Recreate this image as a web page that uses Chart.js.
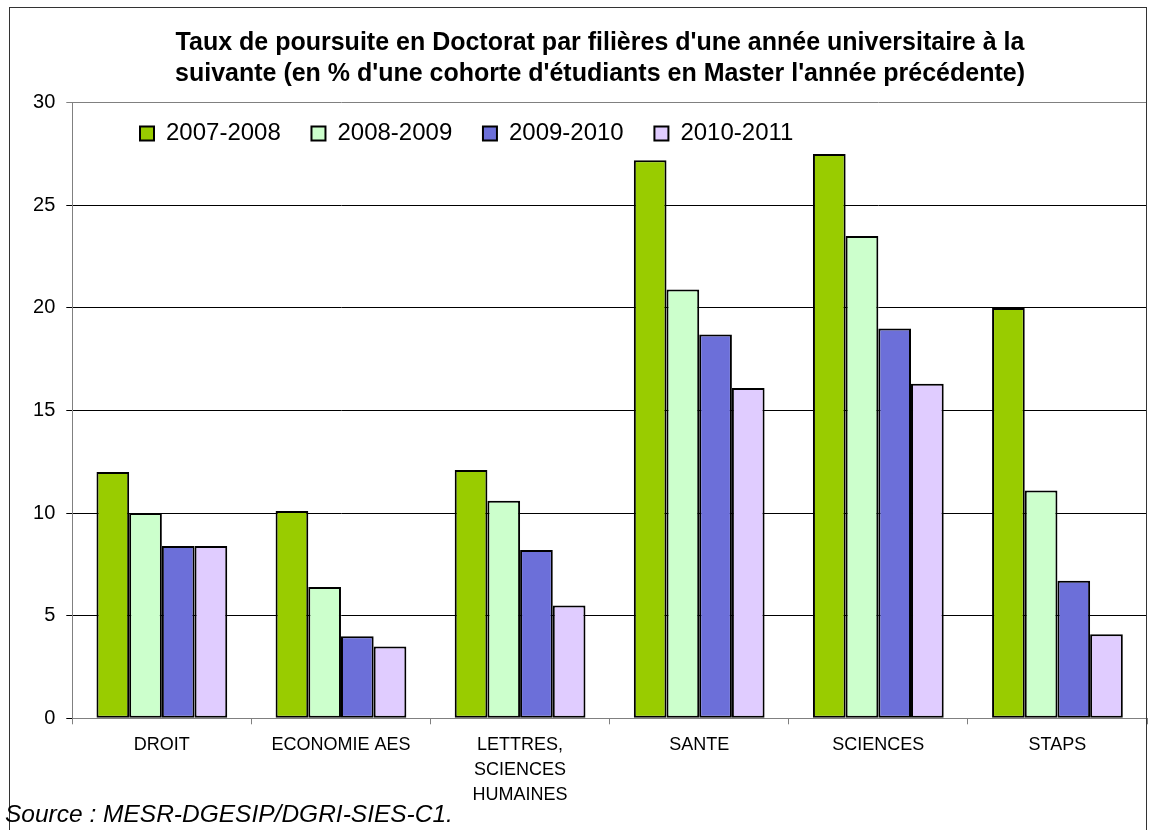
<!DOCTYPE html>
<html lang="fr">
<head>
<meta charset="utf-8">
<title>Taux de poursuite en Doctorat</title>
<script src="https://cdn.jsdelivr.net/npm/chart.js@4.4.1/dist/chart.umd.min.js"></script>
<style>
  html, body { margin: 0; padding: 0; background: #fff; }
  #wrap { width: 1151px; height: 830px; }
</style>
</head>
<body>
<div id="wrap"><canvas id="doctorat-chart" width="1151" height="830"></canvas></div>
<script>
/* ===== DONNEES ===== */
const filieres = ['DROIT', 'ECONOMIE AES', ['LETTRES,', 'SCIENCES', 'HUMAINES'], 'SANTE', 'SCIENCES', 'STAPS'];
const annees   = ['2007-2008', '2008-2009', '2009-2010', '2010-2011'];
const taux0708 = [12.0, 10.1, 12.1, 27.2, 27.5, 20.0];
const taux0809 = [10.0,  6.4, 10.6, 20.9, 23.5, 11.1];
const taux0910 = [ 8.4,  4.0,  8.2, 18.7, 19.0,  6.7];
const taux1011 = [ 8.4,  3.5,  5.5, 16.1, 16.3,  4.1];
const yTicks   = [0, 5, 10, 15, 20, 25, 30];

const titre  = ["Taux de poursuite en Doctorat par filières d'une année universitaire à la",
                "suivante (en % d'une cohorte d'étudiants en Master l'année précédente)"];
const source = 'Source : MESR-DGESIP/DGRI-SIES-C1.';

const couleurs = ['#99CC00', '#CCFFCC', '#6C6FD9', '#E0CCFF'];
const FONT = 'Arial, "Liberation Sans", sans-serif';

Chart.defaults.font.family = FONT;
Chart.defaults.color = '#000';

function serie(label, data, i) {
  return {
    label: label,
    data: data,
    backgroundColor: couleurs[i],
    borderColor: '#000',
    borderWidth: 2,
    borderSkipped: false,
    categoryPercentage: 0.73,
    barPercentage: 1.0
  };
}

// legend sits inside the plot, it must not take layout space
const legendeFlottante = {
  id: 'legendeFlottante',
  beforeInit(chart) {
    const fit = chart.legend.fit;
    chart.legend.fit = function () {
      fit.call(this);
      this.height = 0;
    };
  },
  afterLayout(chart) {
    const lg = chart.legend;
    lg.left = 109.3;
    lg.right = 1147;
    lg.top = 90.8;
    lg.bottom = 160;
    chart.titleBlock.left = 53;
    chart.titleBlock.right = 1147;
  }
};

// outer frame, plot right edge and source line
const cadre = {
  id: 'cadre',
  afterDraw(chart) {
    const ctx = chart.ctx;
    const a = chart.chartArea;
    ctx.save();
    ctx.strokeStyle = '#808080';
    ctx.lineWidth = 1;
    ctx.beginPath();
    ctx.moveTo(Math.round(a.right) - 0.5, a.top);
    ctx.lineTo(Math.round(a.right) - 0.5, a.bottom);
    ctx.stroke();
    ctx.strokeStyle = '#333';
    ctx.strokeRect(9.5, 7.5, 1137, 900);
    ctx.fillStyle = '#000';
    ctx.font = 'italic 24.5px ' + FONT;
    ctx.textBaseline = 'middle';
    ctx.fillText(source, 5, 815);
    ctx.restore();
  }
};

new Chart(document.getElementById('doctorat-chart'), {
  type: 'bar',
  data: {
    labels: filieres,
    datasets: [
      serie(annees[0], taux0708, 0),
      serie(annees[1], taux0809, 1),
      serie(annees[2], taux0910, 2),
      serie(annees[3], taux1011, 3)
    ]
  },
  options: {
    responsive: false,
    animation: false,
    layout: { padding: { left: 10, right: 4, top: 0, bottom: 0 } },
    plugins: {
      title: {
        display: true,
        text: titre,
        color: '#000',
        font: { size: 25, weight: 'bold', lineHeight: 31 / 25 },
        padding: { top: 27.5, bottom: 13.2 }
      },
      legend: {
        display: true,
        position: 'top',
        align: 'start',
        labels: { boxWidth: 14, boxHeight: 14, padding: 30.7, color: '#000', font: { size: 24 } }
      },
      tooltip: { enabled: false }
    },
    scales: {
      x: {
        grid: { offset: true, drawOnChartArea: false, tickLength: 6, color: '#808080' },
        border: { color: '#808080' },
        ticks: { padding: 8, font: { size: 18, lineHeight: 1.4 }, maxRotation: 0, autoSkip: false },
        afterFit(scale) { scale.height = 111.7; }
      },
      y: {
        min: 0,
        max: 30,
        afterBuildTicks(scale) { scale.ticks = yTicks.map(v => ({ value: v })); },
        grid: {
          tickLength: 6,
          color: ctx => (ctx.tick && ctx.tick.value === 30 ? '#808080' : '#000')
        },
        border: { color: '#808080' },
        ticks: { padding: 11, font: { size: 20 } },
        afterFit(scale) { scale.width = 62.3; }
      }
    }
  },
  plugins: [legendeFlottante, cadre]
});
</script>
</body>
</html>
